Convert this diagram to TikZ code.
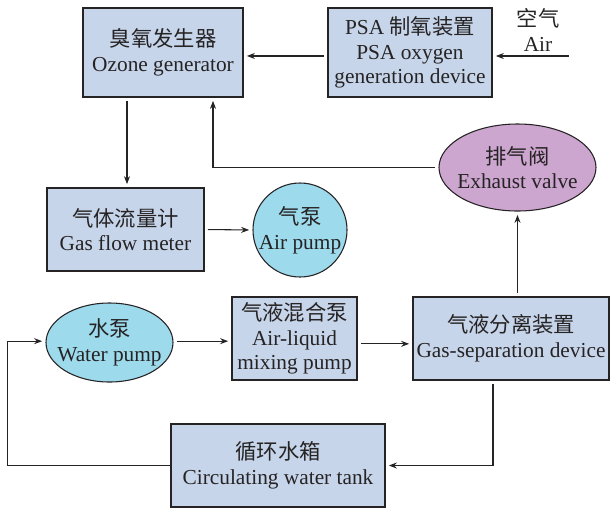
\documentclass[tikz,border=0pt]{standalone}
\usepackage{fontspec}
\setmainfont{Liberation Serif}
\newfontfamily\cjk{Noto Sans CJK SC}
\usepackage{tikz}
\usetikzlibrary{arrows.meta,positioning,calc,shapes.geometric}

\definecolor{boxblue}{HTML}{C6D5EA}
\definecolor{pumpcyan}{HTML}{9DDAEC}
\definecolor{valvepurple}{HTML}{CDA6D0}
\definecolor{inkgray}{HTML}{262324}

\begin{document}
\begin{tikzpicture}[x=0.75pt,y=-0.75pt,>={Stealth[length=6pt,width=4.5pt]},
                    every node/.style={font=\fontsize{16}{18.5}\selectfont, text=inkgray, align=center, inner sep=1pt},
                    unit/.style={draw=inkgray, line width=0.8pt, fill=boxblue, rectangle},
                    pump/.style={draw=inkgray, line width=0.8pt, fill=pumpcyan, ellipse, inner sep=-20pt},
                    valve/.style={draw=inkgray, line width=0.8pt, fill=valvepurple, ellipse, inner sep=-20pt},
                    arr/.style={->, draw=inkgray, line width=0.8pt, shorten >=2.5pt, shorten <=2.5pt}]
  \useasboundingbox (0,0) rectangle (610,508);
  \node[unit, minimum width=120pt, minimum height=66.75pt] (oz)   at (163,52.5)   {{\cjk 臭氧发生器}\\Ozone generator};
  \node[unit, minimum width=123pt, minimum height=66.75pt] (psa)  at (410,52.5)   {PSA {\cjk 制氧装置}\\PSA oxygen\\generation device};
  \node                                                    (air)  at (538,30)     {{\cjk 空气}\\Air};
  \node[unit, minimum width=117.75pt, minimum height=62.25pt] (flow) at (125.5,229.5) {{\cjk 气体流量计}\\Gas flow meter};
  \node[pump, circle, minimum size=70.5pt]                 (ap)   at (300,230)    {{\cjk 气泵}\\Air pump};
  \node[valve, minimum width=117.75pt, minimum height=65.25pt] (ev) at (517.5,167.5) {{\cjk 排气阀}\\Exhaust valve};
  \node[pump, minimum width=95.25pt, minimum height=59.25pt] (wp)  at (109.5,342.5) {{\cjk 水泵}\\Water pump};
  \node[unit, minimum width=93.75pt, minimum height=62.25pt] (mix) at (294.5,338.5) {{\cjk 气液混合泵}\\Air-liquid\\mixing pump};
  \node[unit, minimum width=147pt, minimum height=62.25pt]  (sep) at (511,338.5)   {{\cjk 气液分离装置}\\Gas-separation device};
  \node[unit, minimum width=160.5pt, minimum height=62.25pt] (tank) at (278,465.5) {{\cjk 循环水箱}\\Circulating water tank};
  \coordinate (airin) at (572,56);

  % gas line
  \draw[arr] (airin) -- (airin -| psa.east);
  \draw[arr] ([yshift=-2.6pt]psa.west) -- ([yshift=-2.6pt]oz.east);
  \draw[arr] ([xshift=-27pt]oz.south) -- ([xshift=-27pt]oz.south |- flow.north);
  \draw[arr] (flow.east) -- (ap.west);
  \draw[arr] (ev.west) -| ([xshift=37.5pt]oz.south);
  \draw[arr] (sep.north -| ev.south) -- (ev.south);
  % water line
  \draw[arr] ([yshift=1pt]wp.east) -- ([yshift=1pt]wp.east -| mix.west);
  \draw[arr] ([yshift=-4pt]mix.east) -- ([yshift=-4pt]mix.east -| sep.west);
  \draw[arr] ([xshift=-13.5pt]sep.south) |- (tank.east);
  \draw[arr, shorten <=0pt] (tank.west) -- ++(-122.25pt,0) |- ([yshift=1pt]wp.west);
\end{tikzpicture}
\end{document}
